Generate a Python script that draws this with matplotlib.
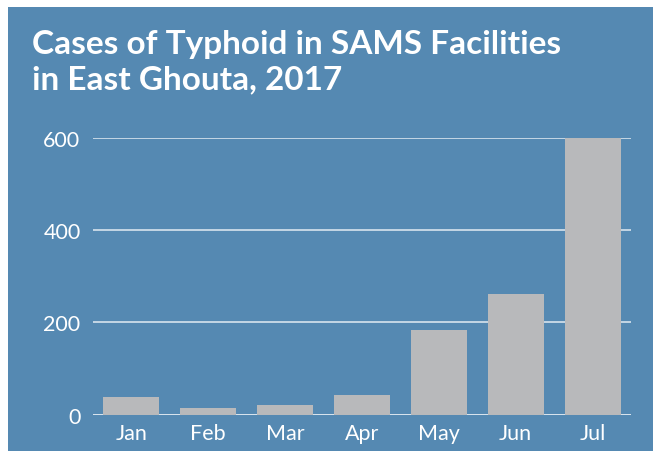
import numpy as np
import matplotlib.pyplot as plt
from matplotlib.patches import Rectangle

months = ["Jan", "Feb", "Mar", "Apr", "May", "Jun", "Jul"]
cases = [38, 14, 22, 43, 184, 262, 600]
y_ticks = [0, 200, 400, 600]

title = "Cases of Typhoid in SAMS Facilities\nin East Ghouta, 2017"

panel_color = "#5589b2"
bar_color = "#b8b9bb"

W, H = 653, 452
fig = plt.figure(figsize=(W / 100, H / 100), dpi=100)
fig.patch.set_facecolor("white")

# blue panel, white margin on top and left only
bg = fig.add_axes([0, 0, 1, 1], zorder=-1)
bg.axis("off")
bg.add_patch(Rectangle((8 / W, 0), 1 - 8 / W, 1 - 8 / H,
                       transform=bg.transAxes, facecolor=panel_color,
                       edgecolor="none"))

fig.text(32 / W, 1 - 30 / H, title, color="white", fontsize=24,
         fontweight="bold", family="Lato", va="top", ha="left",
         linespacing=1.25)

left, right = 93 / W, 631 / W
bottom, top = 1 - 415.7 / H, 1 - 139 / H
ax = fig.add_axes([left, bottom, right - left, top - bottom])
ax.set_facecolor("none")

x = np.arange(len(months))
ax.bar(x, cases, width=0.73, color=bar_color, zorder=3)

for t in y_ticks:
    ax.axhline(t, color="white" if t == 0 else "#e3ebf2", lw=1.1, zorder=2)

ax.set_xlim(-0.5, len(months) - 0.5)
ax.set_ylim(0, 600)
ax.set_xticks(x)
ax.set_xticklabels(months)
ax.set_yticks(y_ticks)
ax.tick_params(length=0, colors="white", labelsize=15.5)
ax.tick_params(axis="y", pad=9)
ax.tick_params(axis="x", pad=6)
for lbl in ax.get_xticklabels() + ax.get_yticklabels():
    lbl.set_family("Lato")
    lbl.set_fontweight("normal")

for s in ax.spines.values():
    s.set_visible(False)

fig.savefig("out.png", dpi=100)
